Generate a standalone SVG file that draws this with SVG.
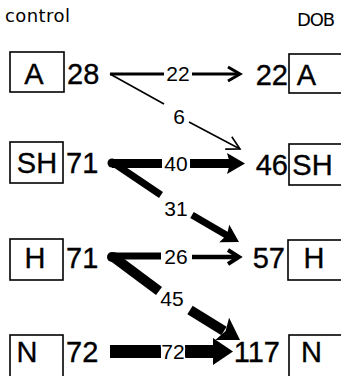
<svg xmlns="http://www.w3.org/2000/svg" width="341" height="376" viewBox="0 0 341 376">
<style>
.box{fill:#fff;stroke:#000;stroke-width:1.6}
.t{font-family:"Liberation Sans",Arial,sans-serif;fill:#000}
.big{font-size:29px;stroke:#000;stroke-width:0.35}
.lab{font-size:21px;text-anchor:middle;stroke:#fff;stroke-width:3;paint-order:stroke;stroke-linejoin:round}
.head{font-family:"DejaVu Sans",sans-serif;font-size:18px;fill:#000}
.ln{stroke:#000;fill:none}
</style>
<rect width="341" height="376" fill="#fff"/>
<text class="head" x="5" y="22" textLength="65" lengthAdjust="spacing">control</text>
<text class="head" x="297" y="26" font-size="15" textLength="38" lengthAdjust="spacing">DOB</text>

<g id="ctrl-A">
<rect class="box" x="10" y="52" width="54" height="40"/>
<text class="t big" x="34" y="84" text-anchor="middle">A</text>
<text class="t big" x="67" y="84">28</text>
</g>
<g id="ctrl-SH">
<rect class="box" x="10" y="142" width="53" height="41"/>
<text class="t big" x="37" y="173" text-anchor="middle">SH</text>
<text class="t big" x="66" y="173">71</text>
</g>
<g id="ctrl-H">
<rect class="box" x="10" y="239" width="53" height="41"/>
<text class="t big" x="35" y="268" text-anchor="middle">H</text>
<text class="t big" x="66" y="268">71</text>
</g>
<g id="ctrl-N">
<rect class="box" x="10" y="335" width="53" height="44"/>
<text class="t big" x="27" y="362" text-anchor="middle">N</text>
<text class="t big" x="66" y="362">72</text>
</g>

<g id="dob-A">
<rect class="box" x="289" y="54" width="60" height="39"/>
<text class="t big" x="306.5" y="85" text-anchor="middle">A</text>
<text class="t big" x="288" y="85" text-anchor="end">22</text>
</g>
<g id="dob-SH">
<rect class="box" x="289" y="144" width="60" height="41"/>
<text class="t big" x="312.5" y="175" text-anchor="middle">SH</text>
<text class="t big" x="288" y="175" text-anchor="end">46</text>
</g>
<g id="dob-H">
<rect class="box" x="288" y="240" width="60" height="40"/>
<text class="t big" x="314" y="268" text-anchor="middle">H</text>
<text class="t big" x="285" y="268" text-anchor="end">57</text>
</g>
<g id="dob-N">
<rect class="box" x="289" y="335" width="60" height="44"/>
<text class="t big" x="311.5" y="362" text-anchor="middle">N</text>
<text class="t big" x="280" y="362" text-anchor="end">117</text>
</g>

<g id="connectors">
<!-- A -> A (22) -->
<line class="ln" x1="110" y1="74" x2="164" y2="74" stroke-width="3"/>
<line class="ln" x1="192" y1="74" x2="239" y2="74" stroke-width="3"/>
<polyline class="ln" points="228,67 240,74 228,81" stroke-width="3"/>
<text class="t lab" x="178" y="81">22</text>
<!-- A -> SH (6) -->
<line class="ln" x1="110" y1="74" x2="164" y2="104" stroke-width="1.6"/>
<line class="ln" x1="189" y1="122" x2="240" y2="149" stroke-width="1.6"/>
<polyline class="ln" points="231.8,136.7 240,149 225.2,149.1" stroke-width="1.6"/>
<text class="t lab" x="179" y="124">6</text>

<!-- SH -> SH (40) -->
<line class="ln" x1="112" y1="163.5" x2="162" y2="163.5" stroke-width="9"/>
<line class="ln" x1="190" y1="163.5" x2="232" y2="163.5" stroke-width="9"/>
<polygon points="245,163.5 227,153 230,163.5 227,174" fill="#000"/>
<!-- SH -> H (31) -->
<line class="ln" x1="112" y1="162" x2="161" y2="195" stroke-width="7"/>
<line class="ln" x1="192" y1="215" x2="228" y2="236" stroke-width="7"/>
<g transform="translate(239,242) rotate(30)"><polygon points="0,0 -17,-10 -14,0 -17,10" fill="#000"/></g>
<circle cx="112" cy="163" r="4.5" fill="#000"/>
<text class="t lab" x="176" y="171">40</text>
<text class="t lab" x="176" y="216">31</text>

<!-- H -> H (26) -->
<line class="ln" x1="112" y1="256" x2="161" y2="256" stroke-width="7"/>
<line class="ln" x1="192" y1="257" x2="236" y2="257" stroke-width="4.5"/>
<polyline class="ln" points="228,250 239,257 228,264" stroke-width="4"/>
<!-- H -> N (45) -->
<line class="ln" x1="112" y1="256" x2="159" y2="291" stroke-width="10"/>
<line class="ln" x1="190" y1="310" x2="224" y2="331" stroke-width="10"/>
<g transform="translate(240,340) rotate(32)"><polygon points="0,0 -21,-13 -17,0 -21,13" fill="#000"/></g>
<circle cx="112" cy="257" r="5" fill="#000"/>
<text class="t lab" x="176" y="264">26</text>
<text class="t lab" x="172" y="306">45</text>

<!-- N -> N (72) -->
<line class="ln" x1="110" y1="351.5" x2="161" y2="351.5" stroke-width="13"/>
<line class="ln" x1="185" y1="351.5" x2="216" y2="351.5" stroke-width="13"/>
<polygon points="233,351.5 213,338 213,365" fill="#000"/>
<text class="t lab" x="173" y="359">72</text>
</g>
</svg>
